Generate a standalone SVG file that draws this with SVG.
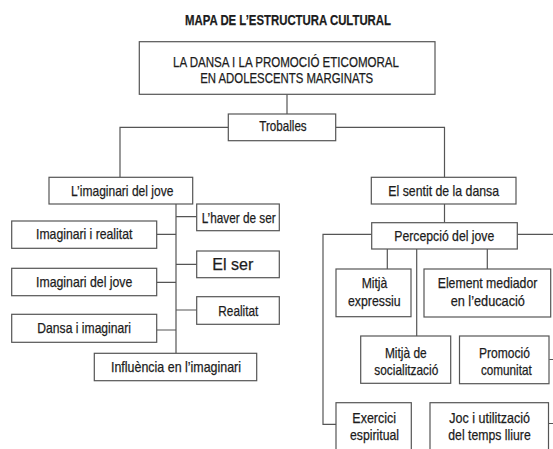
<svg xmlns="http://www.w3.org/2000/svg" width="553" height="449" viewBox="0 0 553 449">
<style>
.b{fill:#fff;stroke:#555;stroke-width:1.2}
.c{fill:none;stroke:#555;stroke-width:1.2}
text{font-family:"Liberation Sans Narrow","Liberation Sans",Arial,sans-serif;font-size:14.5px;fill:#1c1c1c;stroke:#1c1c1c;stroke-width:0.25;text-anchor:middle}
.t{font-weight:bold;font-size:15px}
</style>
<rect width="553" height="449" fill="#fff"/>
<text class="t" x="288" y="25" textLength="206" lengthAdjust="spacingAndGlyphs">MAPA DE L’ESTRUCTURA CULTURAL</text>
<g id="connectors">
<path class="c" d="M287,94.3V114M120,177.3V127.3H228.3M335.7,127.3H444.5V177.3"/>
<path class="c" d="M176,204V353.3M176,216.7H196.7M156.7,234.3H176M176,264.3H196.7M156.7,282.3H176M176,310H196.7M156.7,330H176"/>
<path class="c" d="M444.5,204V222.7M371.7,234.3H323V424.3H336M517.3,234.3H553M387.3,249V269M416.7,249V336M487.3,249V269M549.3,359.5H553M548.5,423.5H553"/>
</g>
<g id="main"><rect class="b" x="139.3" y="41.7" width="295.7" height="52.6"/>
<text x="286" y="66.7" style="font-size:14px" textLength="226" lengthAdjust="spacingAndGlyphs">LA DANSA I LA PROMOCIÓ ETICOMORAL</text>
<text x="286.7" y="83.3" style="font-size:14px" textLength="173" lengthAdjust="spacingAndGlyphs">EN ADOLESCENTS MARGINATS</text></g>
<g id="troballes"><rect class="b" x="228.3" y="114" width="107.4" height="26.7"/><text x="283" y="131" textLength="47.4" lengthAdjust="spacingAndGlyphs">Troballes</text></g>
<g id="imaginari-jove"><rect class="b" x="49" y="177.3" width="143.7" height="26.7"/><text x="122.2" y="195.5" textLength="102.3" lengthAdjust="spacingAndGlyphs">L’imaginari del jove</text></g>
<g id="haver"><rect class="b" x="196.7" y="204" width="82.6" height="26.7"/><text x="238.7" y="222.5" textLength="74" lengthAdjust="spacingAndGlyphs">L’haver de ser</text></g>
<g id="imag-realitat"><rect class="b" x="11.7" y="221" width="145" height="27.3"/><text x="84.2" y="239.3" textLength="96.3" lengthAdjust="spacingAndGlyphs">Imaginari i realitat</text></g>
<g id="elser"><rect class="b" x="196.7" y="251" width="82.6" height="26.7"/><text x="232.8" y="270" style="font-size:16px" textLength="41" lengthAdjust="spacingAndGlyphs">El ser</text></g>
<g id="imag-jove"><rect class="b" x="11.7" y="268.3" width="145" height="27.4"/><text x="84.2" y="286.5" textLength="96.3" lengthAdjust="spacingAndGlyphs">Imaginari del jove</text></g>
<g id="realitat"><rect class="b" x="196.7" y="296.7" width="82.6" height="27.6"/><text x="238.3" y="316" textLength="40" lengthAdjust="spacingAndGlyphs">Realitat</text></g>
<g id="dansa-imag"><rect class="b" x="11.7" y="314.3" width="145" height="28"/><text x="84.2" y="333" textLength="93.7" lengthAdjust="spacingAndGlyphs">Dansa i imaginari</text></g>
<g id="influencia"><rect class="b" x="94.3" y="353.3" width="162.4" height="27.4"/><text x="176" y="371.7" textLength="130" lengthAdjust="spacingAndGlyphs">Influència en l’imaginari</text></g>
<g id="sentit"><rect class="b" x="371.3" y="177.3" width="144.7" height="26.7"/><text x="443.7" y="196" textLength="110.7" lengthAdjust="spacingAndGlyphs">El sentit de la dansa</text></g>
<g id="percepcio"><rect class="b" x="371.7" y="222.7" width="145.6" height="26.3"/><text x="444.3" y="240.5" textLength="100" lengthAdjust="spacingAndGlyphs">Percepció del jove</text></g>
<g id="mitja-expressiu"><rect class="b" x="336" y="269" width="75" height="47.7"/><text x="374.5" y="288.3" textLength="25.7" lengthAdjust="spacingAndGlyphs">Mitjà</text><text x="374.3" y="306" textLength="52.7" lengthAdjust="spacingAndGlyphs">expressiu</text></g>
<g id="element"><rect class="b" x="424" y="269" width="126.7" height="48"/><text x="487.5" y="288.3" textLength="99.6" lengthAdjust="spacingAndGlyphs">Element mediador</text><text x="487.8" y="306" textLength="74.3" lengthAdjust="spacingAndGlyphs">en l’educació</text></g>
<g id="socialitzacio"><rect class="b" x="360.7" y="336" width="90" height="47.3"/><text x="405.8" y="358.3" textLength="41.7" lengthAdjust="spacingAndGlyphs">Mitjà de</text><text x="406.3" y="375" textLength="64" lengthAdjust="spacingAndGlyphs">socialització</text></g>
<g id="promocio"><rect class="b" x="459.5" y="336" width="89.5" height="47.7"/><text x="504.5" y="358.3" textLength="51" lengthAdjust="spacingAndGlyphs">Promoció</text><text x="506.3" y="375" textLength="50.7" lengthAdjust="spacingAndGlyphs">comunitat</text></g>
<g id="exercici"><rect class="b" x="336" y="402.7" width="75.3" height="55"/><text x="374.2" y="422.7" textLength="43.7" lengthAdjust="spacingAndGlyphs">Exercici</text><text x="374.5" y="440" textLength="49" lengthAdjust="spacingAndGlyphs">espiritual</text></g>
<g id="joc"><rect class="b" x="430" y="402.7" width="118.5" height="55"/><text x="489.7" y="422.7" textLength="80.7" lengthAdjust="spacingAndGlyphs">Joc i utilització</text><text x="489.5" y="440" textLength="82.4" lengthAdjust="spacingAndGlyphs">del temps lliure</text></g>
</svg>
